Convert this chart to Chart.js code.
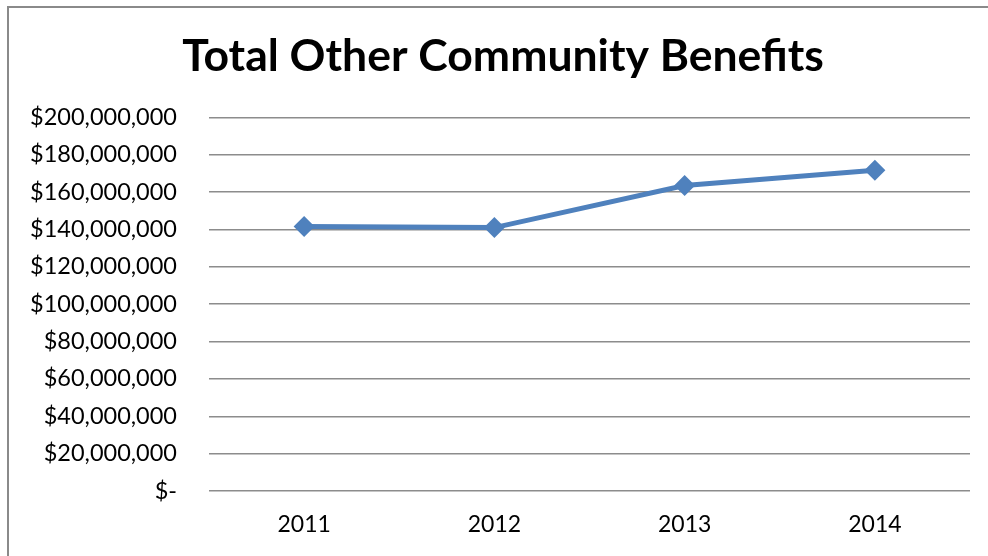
<!DOCTYPE html>
<html>
<head>
<meta charset="utf-8">
<title>Total Other Community Benefits</title>
<script src="https://cdn.jsdelivr.net/npm/chart.js@4.4.1/dist/chart.umd.min.js"></script>
<style>
  html, body { margin: 0; padding: 0; background: #fff; }
  #wrap { position: relative; width: 988px; height: 556px; }
</style>
</head>
<body>
<div id="wrap"><canvas id="js-chart" width="988" height="556"></canvas></div>
<script>
const years = ["2011", "2012", "2013", "2014"];
const totals = [141600000, 141000000, 163500000, 171700000];
const yMin = 0;
const yMax = 200000000;
const yStep = 20000000;

const FONT = "Lato, 'Liberation Sans', sans-serif";

// "$-" for zero, otherwise dollars with thousands separators
function money(v) {
  if (v === 0) return "$-";
  return "$" + v.toLocaleString("en-US");
}

// thin grey frame around the chart, open at the right and bottom
const frame = {
  id: "frame",
  beforeDraw(chart) {
    const ctx = chart.ctx;
    ctx.save();
    ctx.strokeStyle = "#8a8a8a";
    ctx.lineWidth = 2;
    ctx.beginPath();
    ctx.moveTo(8, chart.height + 2);
    ctx.lineTo(8, 7);
    ctx.lineTo(chart.width + 2, 7);
    ctx.stroke();
    ctx.restore();
  },
};

// the long dollar labels run past the left padding; widen the y scale's
// clip box so they are not cut off
const labelRoom = {
  id: "labelRoom",
  afterLayout(chart) {
    chart.scales.y.left = 10;
  },
};

new Chart(document.getElementById("js-chart"), {
  type: "line",
  data: {
    labels: years,
    datasets: [
      {
        data: totals,
        borderColor: "#4f81bd",
        backgroundColor: "#4f81bd",
        borderWidth: 5,
        pointStyle: "rectRot",
        pointRadius: 10.5,
        pointHoverRadius: 10.5,
        pointBorderWidth: 0,
        tension: 0,
      },
    ],
  },
  options: {
    responsive: false,
    animation: false,
    layout: { padding: { left: 36, right: 18, top: 10, bottom: 0 } },
    plugins: {
      legend: { display: false },
      tooltip: { enabled: false },
      title: {
        display: true,
        text: "Total Other Community Benefits",
        color: "#000",
        font: { family: FONT, size: 44.5, weight: "bold" },
        padding: { top: 20, bottom: 34 },
      },
    },
    scales: {
      x: {
        offset: true,
        afterFit(scale) {
          scale.height = 65;
        },
        grid: { display: false, drawTicks: false },
        border: { display: false },
        ticks: {
          color: "#000",
          padding: 20,
          font: { family: FONT, size: 23 },
        },
      },
      y: {
        min: yMin,
        max: yMax,
        afterFit(scale) {
          scale.width = 173;
        },
        grid: { color: "#8c8c8c", lineWidth: 1.5, drawTicks: false },
        border: { display: false },
        ticks: {
          stepSize: yStep,
          color: "#000",
          padding: 32,
          font: { family: FONT, size: 23.5 },
          callback: (v) => money(v),
        },
      },
    },
  },
  plugins: [frame, labelRoom],
});
</script>
</body>
</html>
